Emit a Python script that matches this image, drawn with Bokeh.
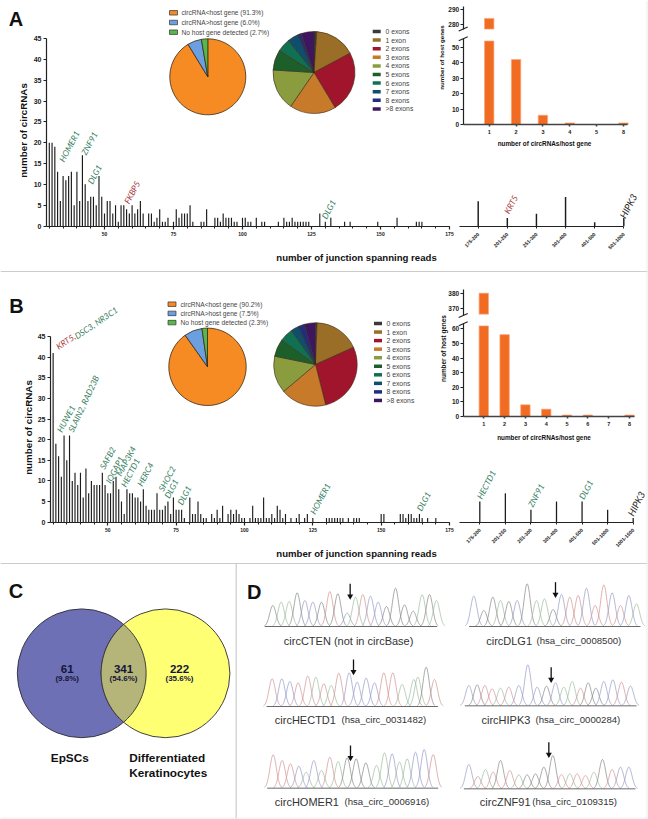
import numpy as np
from bokeh.plotting import figure
from bokeh.models import Range1d, LinearAxis, FixedTicker
from bokeh.core.properties import value
from bokeh.embed import file_html
from bokeh.resources import INLINE

# ---------- DATA ----------
reads_start = 30
a_counts = [20,20,19,13,6,12,11,12,13,5,13,6,17,10,6,7,7,5,12,7,3,6,6,3,5,1,5,5,4,3,5,3,4,6,3,0,3,3,1,2,4,1,1,2,0,1,4,2,3,3,3,5,1,0,0,1,1,4,0,0,2,2,1,3,2,2,2,1,1,0,2,2,1,1,0,2,0,1,1,0,0,0,0,1,0,2,1,1,2,1,1,1,1,1,1,0,0,0,3,0,1,0,2,0,0,0,0,1,0,1,0,0,0,0,0,0,0,0,0,1,0,0,0,0,0,0,2,0,0,0,0,0,0,1,1,1]
b_counts = [41,19,16,11,21,15,21,10,12,9,12,6,13,7,10,9,9,9,12,9,7,7,10,11,8,5,2,8,7,7,6,6,5,8,4,3,3,3,7,3,3,4,5,2,6,3,3,3,1,0,6,2,2,5,2,1,1,0,2,1,3,1,4,0,2,3,2,3,2,1,1,0,1,4,1,1,1,6,1,1,2,1,4,3,1,2,0,1,0,1,2,0,1,2,0,1,0,0,0,0,1,1,1,1,1,1,1,0,1,0,1,1,1,0,0,0,0,0,0,0,2,2,0,0,0,0,0,2,2,1,2,2,1,1,2,1,0,1,0,0,1,0,0,0,0,0]
a_long_cats = ["175-200","201-250","251-300","301-400","401-500","501-1000"]
a_long_vals = [6,2,3,7,1,2]
b_long_cats = ["175-200","201-250","251-300","301-400","401-500","501-1000","1001-1500"]
b_long_vals = [5,7,3,5,5,3,1]

host_labels_a = ["circRNA<host gene (91.3%)","circRNA>host gene (6.0%)","No host gene detected (2.7%)"]
host_share_a = [91.3,6.0,2.7]
host_labels_b = ["circRNA<host gene (90.2%)","circRNA>host gene (7.5%)","No host gene detected (2.3%)"]
host_share_b = [90.2,7.5,2.3]
host_colors = ["#F68B24","#6C9FDF","#57B849"]

exon_labels = ["0 exons","1 exon","2 exons","3 exons","4 exons","5 exons","6 exons","7 exons","8 exons",">8 exons"]
exon_share_a = [1.1,16.1,24.2,18.2,16.4,8.0,5.3,4.2,1.4,5.1]
exon_share_b = [0.6,17.7,27.8,17.8,14.4,6.7,5.3,3.1,2.4,4.3]
exon_colors = ["#3A3A3A","#9A6E26","#A0152C","#C67A2A","#8A9C3E","#1C5F2A","#0F7052","#0F4F6E","#1F2F80","#3E1660"]

hostcount_a_cats = ["1","2","3","4","5","8"]
hostcount_a = [284,42,6,1,0,1]
hostcount_b_cats = ["1","2","3","4","5","6","7","8"]
hostcount_b = [380,56,8,5,1,1,0,1]

venn_left, venn_both, venn_right = 61, 341, 222

trace_colors = {"r":"#D29090","g":"#9CBA9D","b":"#9599C6","k":"#858585"}
cten_pos = [97,122,146,170,193,217,243,268,292,320,345,367,390,413,438,465,492,518,545,567,588]
cten_top = [180,170,168,142,165,170,170,138,145,203,155,147,152,170,183,128,178,197,148,147,165]
cten_col = "kggkbbkrkbgrbbkkkkgkg"
dlg_pos = [700,730,757,780,805,830,860,888,912,938,963,988,1013,1038,1064,1090,1115,1140,1165,1188]
dlg_top = [152,195,155,165,168,165,115,165,160,192,147,155,150,128,180,118,142,180,150,175]
dlg_col = "bkkgkbkggkbrrbrrbrbg"
hectd_pos = [95,124,148,173,202,226,250,272,295,326,350,377,402,430,457,485,520,532,557,582]
hectd_top = [400,400,408,412,392,395,415,420,383,382,410,398,412,382,382,417,402,395,365,402]
hectd_col = "rbbrrgrgrbbbbrrgggkr"
hipk_pos = [685,710,733,755,780,805,835,862,890,918,945,970,995,1020,1043,1066,1090,1117,1143,1170]
hipk_top = [420,418,420,430,428,425,420,358,425,422,412,425,408,428,412,428,408,403,410,422]
hipk_col = "bkrrgrbbbkbggrkkbbrb"
homer_pos = [98,125,150,175,197,220,243,268,293,320,347,376,408,432,455,477,500,525,551,578]
homer_top = [628,645,655,662,680,645,675,635,648,637,640,652,660,622,625,650,640,620,612,627]
homer_col = "rrrbgbgrgkkkggbggbbr"
znf_pos = [685,712,735,758,780,808,835,860,885,910,937,963,988,1010,1035,1060,1086,1115,1140,1165]
znf_top = [657,693,672,680,645,675,688,688,685,665,630,687,685,685,690,680,642,672,665,665]
znf_col = "brgrkrgkkkkrgrrgkrbb"

# ---------- CANVAS (1 unit = 1 screen pixel) ----------
PX0, PX1, PY0, PY1 = 0, 648, 0, 819
p = figure(width=PX1-PX0, height=PY1-PY0, output_backend="svg", toolbar_location=None,
           x_axis_type=None, y_axis_type=None, min_border=0,
           x_range=Range1d(PX0, PX1), y_range=Range1d(819-PY1, 819-PY0))
p.outline_line_color = None
p.background_fill_color = "white"

def Y(py):
    return 819 - py

SANS = "Liberation Sans"
ITAL = "Lato"

def T(x, y, s, size, color="#222222", style="normal", angle=0, align="left", base="middle", font=SANS):
    p.text(x=[x], y=[Y(y)], text=[s], text_font=value(font), text_font_size=value(f"{size}px"),
           text_font_style=style, text_color=color, angle=np.radians(angle),
           text_align=align, text_baseline=base)

def xrange_for(name, d0, p0, d1, p1):
    s = (d1-d0)/(p1-p0)
    p.extra_x_ranges[name] = Range1d(d0+(PX0-p0)*s, d0+(PX1-p0)*s)

def yrange_for(name, d0, p0, d1, p1):
    s = (d1-d0)/(p1-p0)
    p.extra_y_ranges[name] = Range1d(d0+(PY1-p0)*s, d0+(PY0-p0)*s)

def style_axis(ax, size, width=1.2, color="#222222", tick=3):
    ax.axis_line_color = color
    ax.axis_line_width = width
    ax.major_tick_line_color = color
    ax.major_tick_line_width = width
    ax.major_tick_out = tick
    ax.major_tick_in = 0
    ax.minor_tick_line_color = color
    ax.minor_tick_out = 2
    ax.minor_tick_in = 0
    ax.major_label_text_font = SANS
    ax.major_label_text_font_style = "bold"
    ax.major_label_text_font_size = f"{size}px"
    ax.major_label_text_color = "#222222"
    ax.major_label_standoff = 3

def counts_chart(tag, counts, x50, x175, y0, y45, ax_left):
    names = (tag+"x", tag+"y")
    xrange_for(names[0], 50, x50, 175, x175)
    yrange_for(names[1], 0, y0, 45, y45)
    xs = np.arange(len(counts)) + reads_start
    c = np.array(counts)
    keep = c > 0
    p.vbar(x=xs[keep], top=c[keep], bottom=0, width=0.42, fill_color="#1c1c1c", line_color=None,
           x_range_name=names[0], y_range_name=names[1])
    s = (175-50)/(x175-x50)
    xmin = 50 + (ax_left-x50)*s
    xa = LinearAxis(x_range_name=names[0], y_range_name=names[1], fixed_location=0,
                    bounds=(xmin, 175),
                    ticker=FixedTicker(ticks=[50,75,100,125,150,175], minor_ticks=list(range(30,176,5))))
    style_axis(xa, 5, tick=3)
    p.add_layout(xa, "below")
    ya = LinearAxis(x_range_name=names[0], y_range_name=names[1], fixed_location=xmin,
                    bounds=(0,45), ticker=FixedTicker(ticks=list(range(0,46,5))))
    style_axis(ya, 7)
    ya.major_label_standoff = 2
    p.add_layout(ya, "left")

def long_chart(tag, cats, vals, x1, xn, y0, y45, ax_left):
    names = (tag+"lx", tag+"ly")
    n = len(cats)
    xrange_for(names[0], 1, x1, n, xn)
    yrange_for(names[1], 0, y0, 45, y45)
    pos = np.arange(n) + 1
    p.vbar(x=pos, top=vals, bottom=0, width=0.05, fill_color="#1c1c1c", line_color=None,
           x_range_name=names[0], y_range_name=names[1])
    s = (n-1)/(xn-x1)
    xa = LinearAxis(x_range_name=names[0], y_range_name=names[1], fixed_location=0,
                    bounds=(1+(ax_left-x1)*s, n),
                    ticker=FixedTicker(ticks=[int(i) for i in pos]),
                    major_label_overrides={int(i): c for i, c in zip(pos, cats)})
    style_axis(xa, 5, width=1.0, tick=2)
    xa.major_label_orientation = np.pi/4
    xa.major_label_standoff = 5
    p.add_layout(xa, "below")

def pie(cx, cy, r, shares, colors, lw=0.8):
    frac = np.array(shares)/sum(shares)*2*np.pi
    end = np.cumsum(frac)
    start = end - frac
    p.wedge(x=[cx]*len(frac), y=[Y(cy)]*len(frac), radius=r,
            start_angle=np.pi/2-start, end_angle=np.pi/2-end, direction="clock",
            fill_color=colors, line_color="#3a2c18", line_width=lw)

def legend(x, y0, dy, labels, colors, size, tx, sw=8, sh=3.5, tcolor="#444444"):
    for i, (lab, c) in enumerate(zip(labels, colors)):
        p.rect(x=[x], y=[Y(y0+i*dy)], width=sw, height=sh, fill_color=c, line_color=None)
        T(tx, y0+i*dy, lab, size, color=tcolor)

def legend_box(x, y0, dy, labels, colors, size, tx):
    for i, (lab, c) in enumerate(zip(labels, colors)):
        p.rect(x=[x], y=[Y(y0+i*dy)], width=8, height=4.5, fill_color=c, line_color="#333333", line_width=0.7)
        T(tx, y0+i*dy, lab, size, color="#444444")

def break_mark(x, py):
    p.line(x=[x-4.5, x+4.5], y=[Y(py+2), Y(py-2)], line_color="#222222", line_width=1.1)

def broken_chart(tag, cats, vals, x1, xn, y0, ysec_v, ysec_p, low_top, up_bot, up_a, up_ap, up_b, up_bp, low_ticks, up_ticks, ax_right, low_ax_top, up_ax_bot, up_ax_top):
    xn_name, yl, yu = tag+"hx", tag+"hl", tag+"hu"
    n = len(cats)
    xrange_for(xn_name, 1, x1, n, xn)
    yrange_for(yl, 0, y0, ysec_v, ysec_p)
    yrange_for(yu, up_a, up_ap, up_b, up_bp)
    pos = np.arange(n) + 1
    v = np.array(vals, dtype=float)
    step = (xn-x1)/(n-1)
    w = 9.4/step
    shown = v > 0
    p.vbar(x=pos[shown], top=np.minimum(v[shown], low_top), bottom=0, width=w, fill_color="#F26B22",
           line_color="#F8A878", line_width=0.7, x_range_name=xn_name, y_range_name=yl)
    big = v > low_top
    p.vbar(x=pos[big], top=v[big], bottom=up_bot, width=w, fill_color="#F26B22",
           line_color="#F8A878", line_width=0.7, x_range_name=xn_name, y_range_name=yu)
    left_v = 1 + (462.7-x1)/step
    right_v = 1 + (ax_right-x1)/step
    xa = LinearAxis(x_range_name=xn_name, y_range_name=yl, fixed_location=0, bounds=(left_v, right_v),
                    ticker=FixedTicker(ticks=[int(i) for i in pos]),
                    major_label_overrides={int(i): c for i, c in zip(pos, cats)})
    style_axis(xa, 5.5, width=1.6, color="#444444", tick=2)
    xa.major_label_standoff = 3
    p.add_layout(xa, "below")
    y1 = LinearAxis(x_range_name=xn_name, y_range_name=yl, fixed_location=left_v, bounds=(0, low_ax_top),
                    ticker=FixedTicker(ticks=low_ticks))
    style_axis(y1, 6.5, tick=3)
    y1.major_label_standoff = 1
    p.add_layout(y1, "left")
    y2 = LinearAxis(x_range_name=xn_name, y_range_name=yu, fixed_location=left_v, bounds=(up_ax_bot, up_ax_top),
                    ticker=FixedTicker(ticks=up_ticks))
    style_axis(y2, 6.5, tick=3)
    y2.major_label_standoff = 1
    p.add_layout(y2, "left")
    break_mark(462.7, y0 - (low_ax_top)*(y0-ysec_p)/ysec_v)
    break_mark(462.7, up_ap + (up_ax_bot-up_a)*(up_bp-up_ap)/(up_b-up_a))

def gene(x, y, s, color="#37805F", angle=62, size=8.4):
    T(x, y, s, size, color=color, style="italic", angle=angle, align="center", font=ITAL)

RED = "#A83A3A"
BLK = "#1a1a1a"

# ---------- PANEL A ----------
T(8.2, 18, "A", 20, color="#111111", style="bold")
legend_box(173, 12.3, 9.7, host_labels_a, host_colors, 6.6, 181)
pie(207.3, 76.3, 38, host_share_a, host_colors)
pie(313.5, 72, 41, exon_share_a, exon_colors, lw=0.6)
legend(376.2, 31, 8.6, exon_labels, exon_colors, 6.8, 385)
counts_chart("a", a_counts, 104, 449, 225.5, 38, 46)
long_chart("a", a_long_cats, a_long_vals, 477.7, 623.3, 225.8, 38, 459)
broken_chart("a", hostcount_a_cats, hostcount_a, 488.7, 623, 124, 50, 46.7, 54, 277, 280, 24, 290, 8.7,
             [0,10,20,30,40,50], [280,290], 627, 55.4, 277, 291.5)
T(23, 130, "number of circRNAs", 9.8, color="#111111", style="bold", angle=90, align="center")
T(356, 257, "number of junction spanning reads", 9.6, color="#111111", style="bold", align="center")
T(441, 57, "number of host genes", 6.2, color="#111111", style="bold", angle=90, align="center")
T(544, 143, "number of circRNAs/host gene", 6.4, color="#111111", style="bold", align="center")
gene(69, 146, "HOMER1"); gene(89, 143, "ZNF91"); gene(94.3, 174, "DLG1")
gene(131.7, 192, "FKBP5", color=RED); gene(328.3, 209, "DLG1")
gene(510.7, 204, "KRT5", color=RED); gene(628, 205.7, "HIPK3", color=BLK, size=9.5)

# ---------- PANEL B ----------
T(8.8, 305.5, "B", 20, color="#111111", style="bold")
legend_box(171.5, 303.7, 9.2, host_labels_b, host_colors, 6.6, 180)
pie(207, 366.3, 38.7, host_share_b, host_colors)
pie(315, 364, 41.7, exon_share_b, exon_colors, lw=0.6)
legend(377.5, 323, 8.55, exon_labels, exon_colors, 6.8, 386)
counts_chart("b", b_counts, 107.3, 449, 521.7, 336, 50)
long_chart("b", b_long_cats, b_long_vals, 479.3, 632.7, 521.7, 336, 459)
broken_chart("b", hostcount_b_cats, hostcount_b, 483.3, 629, 416, 60, 328.3, 62, 366.3, 370, 308, 380, 292.7,
             [0,10,20,30,40,50,60], [370,380], 634, 63.4, 365.5, 382.4)
T(28, 427, "number of circRNAs", 9.8, color="#111111", style="bold", angle=90, align="center")
T(356, 553, "number of junction spanning reads", 9.6, color="#111111", style="bold", align="center")
T(442.5, 348, "number of host genes", 6.4, color="#111111", style="bold", angle=90, align="center")
T(543.5, 436.5, "number of circRNAs/host gene", 6.4, color="#111111", style="bold", align="center")
T(56.5, 347, "KRT5,", 8.4, color=RED, style="italic", angle=34, font=ITAL)
T(75, 336.5, "DSC3, NR3C1", 8.4, color="#37805F", style="italic", angle=34, font=ITAL)
gene(65.7, 418.3, "HUWE1"); gene(83.3, 403.3, "SLAIN2, RAD23B", angle=65)
gene(107.3, 457.7, "SAFB2"); gene(114.3, 469.3, "IQGAP1"); gene(125.7, 460.7, "MAP3K4")
gene(130, 472.3, "HECTD1"); gene(145, 474, "HERC4"); gene(166.7, 478.3, "SHOC2")
gene(171, 488.3, "DLG1"); gene(184, 495, "DLG1"); gene(320, 498.3, "HOMER1")
gene(423.3, 501, "DLG1"); gene(486, 484.3, "HECTD1"); gene(535.7, 495, "ZNF91")
gene(585.7, 489.3, "DLG1"); gene(636, 503.3, "HIPK3", color=BLK, size=9.5)

# ---------- PANEL SEPARATORS ----------
p.line(x=[PX0, PX1], y=[Y(271), Y(271)], line_color="#CCCCCC", line_width=1.2)
p.line(x=[PX0, PX1], y=[Y(563), Y(563)], line_color="#CCCCCC", line_width=1.2)
p.line(x=[235.7, 235.7], y=[Y(563), Y(PY1)], line_color="#CCCCCC", line_width=1.2)
p.line(x=[646.5, 646.5], y=[Y(PY0), Y(PY1)], line_color="#EEEEEE", line_width=1.2)
p.line(x=[PX0, PX1], y=[Y(817.5), Y(817.5)], line_color="#EEEEEE", line_width=1.2)

# ---------- PANEL C ----------
T(8.2, 590.5, "C", 20, color="#111111", style="bold")
cxl, cxr, cy, r = 81.2, 165, 672.8, 64.4
p.circle(x=[cxl], y=[Y(cy)], radius=r, fill_color="#6E70B5", line_color="#2b2b33", line_width=0.9)
p.circle(x=[cxr], y=[Y(cy)], radius=r, fill_color="#FFFF73", line_color="#2b2b33", line_width=0.9)
half = np.arccos((cxr-cxl)/2/r)
t = np.linspace(-half, half, 60)
lens_x = np.concatenate([cxl + r*np.cos(t), cxr - r*np.cos(t[::-1])])
lens_y = np.concatenate([r*np.sin(t), r*np.sin(t[::-1])]) + Y(cy)
p.patch(x=lens_x, y=lens_y, fill_color="#B6B579", line_color="#2b2b33", line_width=0.9)
total = venn_left + venn_both + venn_right
for cx_, n_ in zip([66.7, 123, 179], [venn_left, venn_both, venn_right]):
    T(cx_, 668, str(n_), 11.5, color="#15153a", style="bold", align="center")
    T(cx_, 677.7, f"({100*n_/total:.1f}%)", 8, color="#15153a", style="bold", align="center")
T(69.3, 757.3, "EpSCs", 11.8, color="#111111", style="bold", align="center")
T(128.7, 757.3, "Differentiated", 11.8, color="#111111", style="bold")
T(128.7, 772.3, "Keratinocytes", 11.8, color="#111111", style="bold")

# ---------- PANEL D ----------
T(246.5, 591, "D", 20, color="#111111", style="bold")

def trace(tag, pos, top, cols, base_z, x0, x1, arrow_x, arrow_top):
    xrange_for(tag+"tx", 0, 240, 3, 241)
    yrange_for(tag+"ty", 0, 545+base_z/3, 3, 545+base_z/3-1)
    xs_list, ys_list, cs = [], [], []
    for px_, tp, c in zip(pos, top, cols):
        h = base_z - tp
        grid = np.linspace(-26, 26, 41)
        xs_list.append(px_ + grid)
        ys_list.append(h*np.exp(-0.5*(grid/9.5)**2))
        cs.append(trace_colors[c])
    p.multi_line(xs=xs_list, ys=ys_list, line_color=cs, line_width=0.7,
                 x_range_name=tag+"tx", y_range_name=tag+"ty")
    p.line(x=[x0, x1], y=[0, 0], line_color="#6a6a6a", line_width=1.0,
           x_range_name=tag+"tx", y_range_name=tag+"ty")
    tip = base_z - arrow_top - 42
    p.line(x=[arrow_x, arrow_x], y=[tip, tip+42], line_color="#111111", line_width=1.3,
           x_range_name=tag+"tx", y_range_name=tag+"ty")
    p.scatter(x=[arrow_x], y=[tip+5], marker="inverted_triangle", size=6, fill_color="#111111", line_color=None,
              x_range_name=tag+"tx", y_range_name=tag+"ty")

trace("c", cten_pos, cten_top, cten_col, 243, 73, 590, 329, 115)
trace("d", dlg_pos, dlg_top, dlg_col, 243, 686, 1200, 945, 110)
trace("e", hectd_pos, hectd_top, hectd_col, 483, 78, 592, 339, 342)
trace("f", hipk_pos, hipk_top, hipk_col, 481, 673, 1188, 932, 365)
trace("g", homer_pos, homer_top, homer_col, 728, 80, 593, 330, 600)
trace("h", znf_pos, znf_top, znf_col, 730, 670, 1185, 925, 590)

CAP = "#333333"
T(283.3, 640, "circCTEN (not in circBase)", 11, color=CAP)
T(485.7, 640, "circDLG1", 11, color=CAP); T(536, 640.3, "(hsa_circ_0008500)", 9.6, color=CAP)
T(274.3, 719, "circHECTD1", 11, color=CAP); T(341, 719.3, "(hsa_circ_0031482)", 9.6, color=CAP)
T(481, 719, "circHIPK3", 11, color=CAP); T(535, 719.3, "(hsa_circ_0000284)", 9.6, color=CAP)
T(274.3, 801, "circHOMER1", 11, color=CAP); T(344, 801.3, "(hsa_circ_0006916)", 9.6, color=CAP)
T(479.3, 801, "circZNF91", 11, color=CAP); T(531.7, 801.3, "(hsa_circ_0109315)", 9.6, color=CAP)

open("out.html", "w").write(file_html(p, INLINE))
